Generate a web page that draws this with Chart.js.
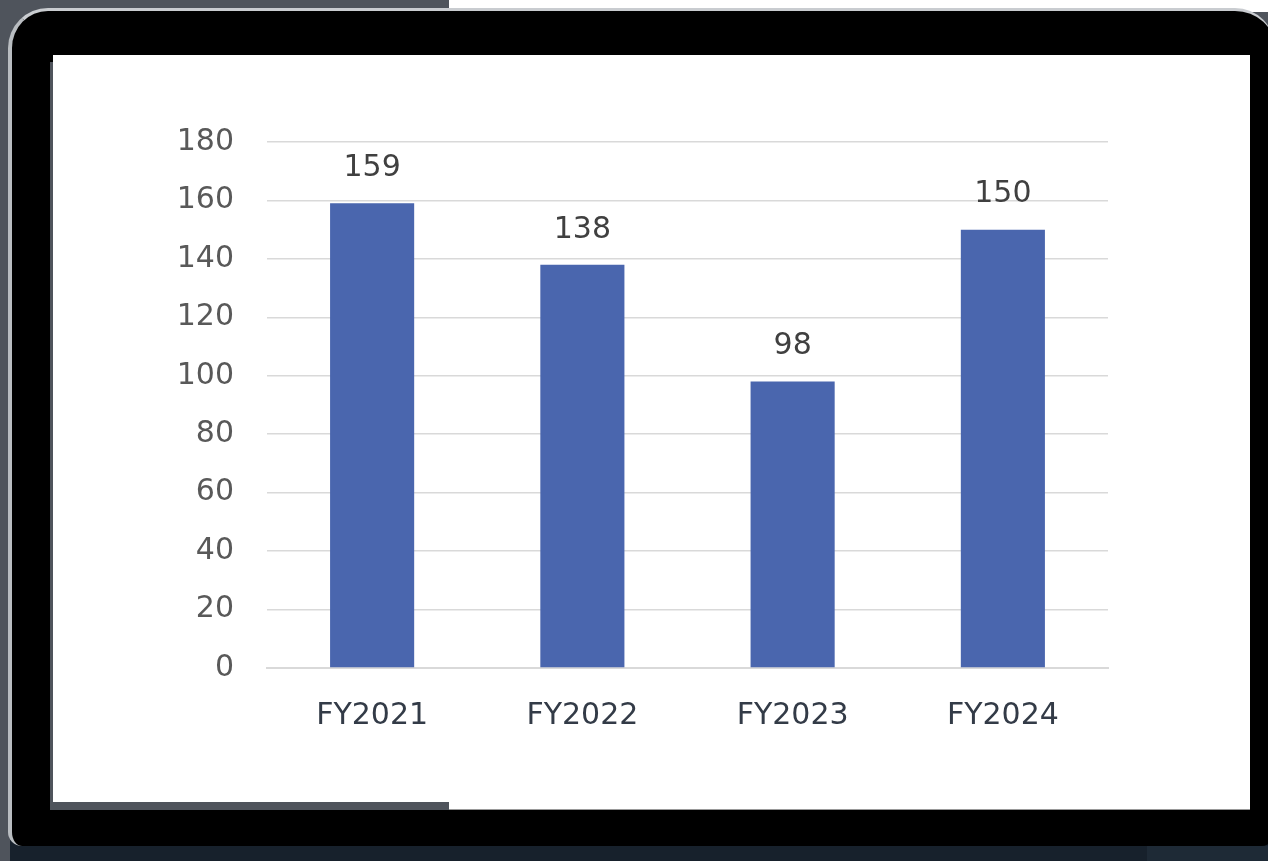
<!DOCTYPE html>
<html>
<head>
<meta charset="utf-8">
<script src="https://cdn.jsdelivr.net/npm/chart.js@4"></script>
<style>
  html, body { margin: 0; padding: 0; }
  body { width: 1268px; height: 861px; background: #4f545c; position: relative; overflow: hidden; }
  .abs { position: absolute; }
  #topStrip { left: 449px; top: 0; width: 819px; height: 12px; background: #fff; }
  #base { left: 10px; top: 840px; width: 1258px; height: 21px; background: #17212c; }
  #baseRight { left: 1147px; top: 846px; width: 121px; height: 15px; background: #1e2a36; }
  #frame { left: 8px; top: 8px; width: 1267px; height: 838px; background: #000;
           border-radius: 40px 40px 14px 14px; box-sizing: border-box;
           border-top: 3px solid #c9ccd0; border-left: 4px solid #b9bdc1; }
  #shadowStrip { left: 50px; top: 62px; width: 399px; height: 748px; background: #4f545c; }
  #screenR { left: 449px; top: 55px; width: 801px; height: 755px; background: #fff; border-bottom: 1px solid #999; box-sizing: border-box; }
  #screen { left: 53px; top: 55px; width: 1197px; height: 747px; background: #fff; }
  #wrap { left: 0; top: 0; width: 1268px; height: 861px; }
</style>
</head>
<body>
<div class="abs" id="topStrip"></div>
<div class="abs" id="base"></div>
<div class="abs" id="baseRight"></div>
<div class="abs" id="frame"></div>
<div class="abs" id="shadowStrip"></div>
<div class="abs" id="screenR"></div>
<div class="abs" id="screen"></div>
<div class="abs" id="wrap"><canvas id="chart" width="1268" height="861"></canvas></div>
<script>
const categories = ["FY2021", "FY2022", "FY2023", "FY2024"];
const values = [159, 138, 98, 150];
const yTicks = [0, 20, 40, 60, 80, 100, 120, 140, 160, 180];

const FONT = "'DejaVu Sans', Verdana, sans-serif";

// draws the number above each bar
const valueLabels = {
    id: "valueLabels",
    afterDatasetsDraw(chart) {
        const ctx = chart.ctx;
        const meta = chart.getDatasetMeta(0);
        ctx.save();
        ctx.font = "30px " + FONT;
        ctx.fillStyle = "#404040";
        ctx.textAlign = "center";
        ctx.textBaseline = "middle";
        meta.data.forEach((bar, i) => {
            ctx.fillText(String(values[i]), bar.x, bar.y - 35);
        });
        ctx.restore();
    }
};

const ctx = document.getElementById("chart").getContext("2d");
new Chart(ctx, {
    type: "bar",
    data: {
        labels: categories,
        datasets: [{
            data: values,
            backgroundColor: "#4a66ae",
            categoryPercentage: 1,
            barPercentage: 0.4
        }]
    },
    options: {
        responsive: false,
        animation: false,
        layout: { padding: { left: 150, right: 160, top: 142, bottom: 97 } },
        plugins: { legend: { display: false }, tooltip: { enabled: false } },
        scales: {
            x: {
                grid: { display: false, drawTicks: false },
                border: { color: "#d9d9d9", width: 2 },
                ticks: { color: "#333b47", font: { family: FONT, size: 30 }, padding: 30 }
            },
            y: {
                min: 0,
                max: 180,
                afterFit: (scale) => { scale.width = 117; },
                afterBuildTicks: (scale) => { scale.ticks = yTicks.map(v => ({ value: v })); },
                grid: { color: "#d9d9d9", lineWidth: 1.5, drawTicks: false },
                border: { display: false },
                ticks: { color: "#595959", font: { family: FONT, size: 30 }, padding: 33 }
            }
        }
    },
    plugins: [valueLabels]
});
</script>
</body>
</html>
